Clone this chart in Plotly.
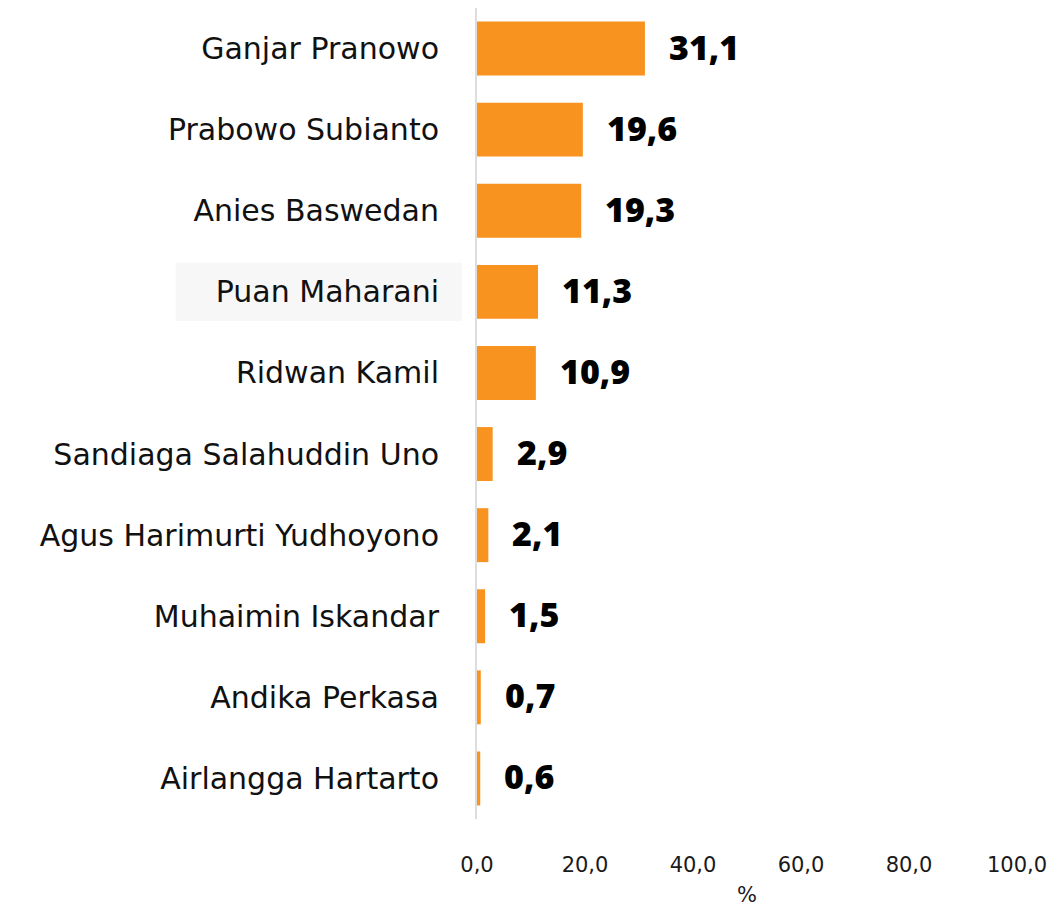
import plotly.graph_objects as go

categories = ["Ganjar Pranowo", "Prabowo Subianto", "Anies Baswedan", "Puan Maharani",
              "Ridwan Kamil", "Sandiaga Salahuddin Uno", "Agus Harimurti Yudhoyono",
              "Muhaimin Iskandar", "Andika Perkasa", "Airlangga Hartarto"]
values = [31.1, 19.6, 19.3, 11.3, 10.9, 2.9, 2.1, 1.5, 0.7, 0.6]
tick_vals = [0, 20, 40, 60, 80, 100]
tick_text = ["0,0", "20,0", "40,0", "60,0", "80,0", "100,0"]
highlight = "Puan Maharani"

labels = [f"{v:.1f}".replace(".", ",") for v in values]

FONT = "DejaVu Sans"
fig = go.Figure()
fig.add_trace(go.Bar(
    x=values, y=categories, orientation="h",
    marker=dict(color="#F7931E", line=dict(width=0)),
    hoverinfo="skip",
))

for c, v, t in zip(categories, values, labels):
    fig.add_annotation(x=v, y=c, text=t, showarrow=False, xanchor="left",
                       xshift=22, yshift=2,
                       font=dict(family="Open Sans", size=34, color="#000000", weight=800))

idx = categories.index(highlight)
fig.add_shape(type="rect", xref="paper", yref="y", layer="below",
              x0=-0.558, x1=-0.028, y0=idx - 0.36, y1=idx + 0.36,
              fillcolor="#F7F7F7", line=dict(width=0))

fig.update_layout(
    width=1047, height=899,
    margin=dict(l=469, r=38, t=0, b=88),
    paper_bgcolor="white", plot_bgcolor="white",
    showlegend=False, bargap=0.335,
    font=dict(family=FONT, color="#111111"),
    xaxis=dict(range=[0, 100], tickvals=tick_vals, ticktext=tick_text,
               showgrid=False, zeroline=False, showline=False, automargin=False,
               tickfont=dict(family=FONT, size=21, color="#1a1a1a"),
               ticks="outside", ticklen=27, tickcolor="rgba(0,0,0,0)",
               title=dict(text="%", font=dict(family=FONT, size=21, color="#1a1a1a"), standoff=15)),
    yaxis=dict(autorange="reversed", showgrid=False, zeroline=False, automargin=False,
               showline=True, linecolor="#DDDDDD", linewidth=2,
               tickfont=dict(family=FONT, size=30, color="#111111"),
               ticks="outside", ticklen=30, tickcolor="rgba(0,0,0,0)"),
)

fig.write_html("out.html")
